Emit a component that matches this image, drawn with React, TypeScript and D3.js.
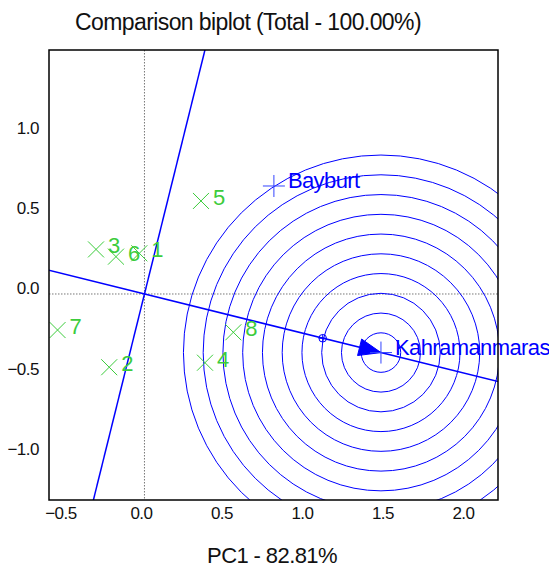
import React from "react";
import * as d3 from "d3";

// genotype scores (PC1, PC2)
const genoNames = ["1", "2", "3", "4", "5", "6", "7", "8"];
const genoPC1 = [-0.032, -0.219, -0.301, 0.376, 0.351, -0.177, -0.54, 0.552];
const genoPC2 = [0.253, -0.455, 0.277, -0.427, 0.578, 0.232, -0.224, -0.238];

// environment scores
const envNames = ["Bayburt", "Kahramanmaras"];
const envPC1 = [0.804, 1.469];
const envPC2 = [0.671, -0.364];

// ideal point (circle centre) and average environment mark
const ideal = [1.469, -0.364];
const avgEnv = [1.107, -0.275];
const ringCount = 10;
const ringStep = 0.1227;

const xTicks = [-0.5, 0, 0.5, 1, 1.5, 2];
const yTicks = [-1, -0.5, 0, 0.5, 1];

const title = "Comparison biplot (Total - 100.00%)";
const xTitle = "PC1 - 82.81%";

const W = 549;
const H = 567;
const margin = { top: 50, right: 51, bottom: 67, left: 49 };
const FONT = "'Liberation Sans', Arial, Helvetica, sans-serif";
const BLUE = "#0000ff";
const GREEN = "#3ccc3c";

const App = () => {
	const x = d3
		.scaleLinear()
		.domain([-0.593, 2.196])
		.range([margin.left, W - margin.right]);
	const y = d3
		.scaleLinear()
		.domain([-1.28, 1.516])
		.range([H - margin.bottom, margin.top]);

	const pxPerUnit = x(1) - x(0);

	// direction of the average-environment axis
	const len = Math.hypot(ideal[0], ideal[1]);
	const ux = ideal[0] / len;
	const uy = ideal[1] / len;
	const far = 10;

	// arrow head, tip on the ideal point
	const tipX = x(ideal[0]);
	const tipY = y(ideal[1]);
	const dx = ux;
	const dy = -uy; // screen direction
	const aLen = 22;
	const aHalf = 8.5;
	const bx = tipX - dx * aLen;
	const by = tipY - dy * aLen;
	const arrow = [
		[tipX, tipY],
		[bx - dy * aHalf, by + dx * aHalf],
		[bx + dy * aHalf, by - dx * aHalf],
	];

	const line = d3.line();

	return (
		<svg
			width={W}
			height={H}
			style={{ position: "absolute", left: 0, top: 0, background: "#fff" }}
			fontFamily={FONT}
		>
			<defs>
				<clipPath id="plotClip">
					<rect
						x={margin.left}
						y={margin.top}
						width={W - margin.left - margin.right}
						height={H - margin.top - margin.bottom}
					/>
				</clipPath>
			</defs>

			<text x={248} y={30} textAnchor="middle" fontSize={23} letterSpacing={-0.6} fill="#111">
				{title}
			</text>

			{/* zero reference lines */}
			<g stroke="#777" strokeWidth={1} strokeDasharray="1.5,1.5">
				<line x1={x(0)} x2={x(0)} y1={margin.top} y2={H - margin.bottom} />
				<line x1={margin.left} x2={W - margin.right} y1={y(0)} y2={y(0)} />
			</g>

			<g clipPath="url(#plotClip)">
				{d3.range(1, ringCount + 1).map((i) => (
					<circle
						key={i}
						cx={x(ideal[0])}
						cy={y(ideal[1])}
						r={i * ringStep * pxPerUnit}
						fill="none"
						stroke={BLUE}
						strokeWidth={1}
					/>
				))}
				<line
					x1={x(-ux * far)}
					y1={y(-uy * far)}
					x2={x(ux * far)}
					y2={y(uy * far)}
					stroke={BLUE}
					strokeWidth={1.5}
				/>
				<line
					x1={x(uy * far)}
					y1={y(-ux * far)}
					x2={x(-uy * far)}
					y2={y(ux * far)}
					stroke={BLUE}
					strokeWidth={1.5}
				/>
			</g>

			<path d={line(arrow) + "Z"} fill={BLUE} stroke={BLUE} strokeWidth={1} />

			<g stroke={BLUE} strokeWidth={1} fill="none">
				<circle cx={x(avgEnv[0])} cy={y(avgEnv[1])} r={3.8} />
				<line x1={x(avgEnv[0]) - 3.8} x2={x(avgEnv[0]) + 3.8} y1={y(avgEnv[1])} y2={y(avgEnv[1])} />
				<line x1={x(avgEnv[0])} x2={x(avgEnv[0])} y1={y(avgEnv[1]) - 3.8} y2={y(avgEnv[1]) + 3.8} />
			</g>

			{/* genotypes */}
			{genoNames.map((n, i) => {
				const cx = x(genoPC1[i]);
				const cy = y(genoPC2[i]);
				return (
					<g key={n}>
						<path
							d={`M${cx - 8},${cy - 8}L${cx + 8},${cy + 8}M${cx - 8},${cy + 8}L${cx + 8},${cy - 8}`}
							stroke={GREEN}
							strokeWidth={1}
						/>
						<text x={cx + 12} y={cy + 4} fontSize={22} fill={GREEN}>
							{n}
						</text>
					</g>
				);
			})}

			{/* environments */}
			{envNames.map((n, i) => {
				const cx = x(envPC1[i]);
				const cy = y(envPC2[i]);
				return (
					<g key={n}>
						<path
							d={`M${cx - 11},${cy}L${cx + 11},${cy}M${cx},${cy - 11}L${cx},${cy + 11}`}
							stroke="#3344ff"
							strokeWidth={1}
						/>
						<text x={cx + 14} y={cy + 2.5} fontSize={22} letterSpacing={-0.6} fill={BLUE}>
							{n}
						</text>
					</g>
				);
			})}

			{/* frame */}
			<rect
				x={margin.left}
				y={margin.top}
				width={W - margin.left - margin.right}
				height={H - margin.top - margin.bottom}
				fill="none"
				stroke="#000"
				strokeWidth={1.5}
			/>

			{xTicks.map((t) => (
				<text
					key={t}
					x={x(t) - 3}
					y={H - margin.bottom + 19}
					textAnchor="middle"
					fontSize={17}
					letterSpacing={-0.5}
					fill="#111"
				>
					{d3.format(".1f")(t)}
				</text>
			))}
			{yTicks.map((t) => (
				<text
					key={t}
					x={39}
					y={y(t) + 0.5}
					textAnchor="end"
					fontSize={17}
					letterSpacing={-0.5}
					fill="#111"
				>
					{d3.format(".1f")(t)}
				</text>
			))}

			<text x={272} y={563} textAnchor="middle" fontSize={22} letterSpacing={-0.6} fill="#111">
				{xTitle}
			</text>
		</svg>
	);
};

export default App;
